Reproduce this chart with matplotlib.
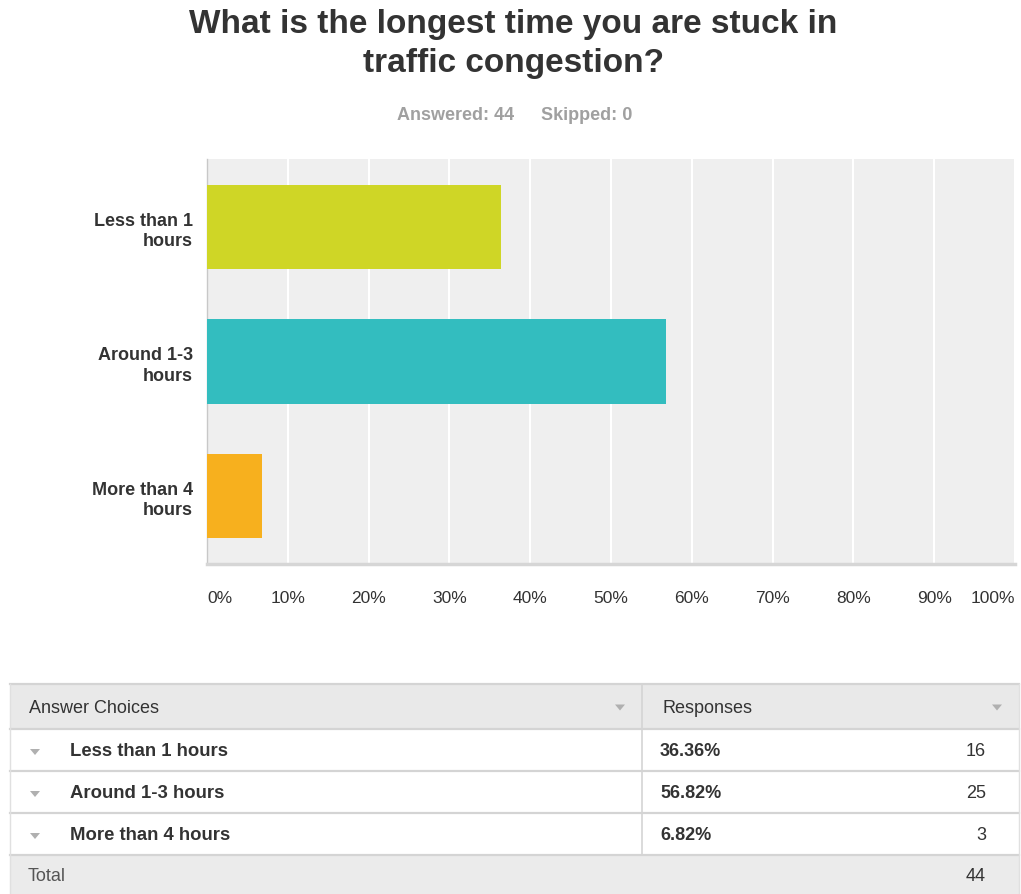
import matplotlib
matplotlib.use("Agg")
import matplotlib.pyplot as plt
from matplotlib.patches import Rectangle, Polygon

plt.rcParams['font.family'] = ['Liberation Sans', 'DejaVu Sans']

# survey results
choices = ["Less than 1 hours", "Around 1-3 hours", "More than 4 hours"]
axis_labels = ["Less than 1\nhours", "Around 1-3\nhours", "More than 4\nhours"]
percents = [36.36, 56.82, 6.82]
counts = [16, 25, 3]
skipped = 0
bar_colors = ["#cfd626", "#33bdbf", "#f7b01e"]
ticks = [0, 10, 20, 30, 40, 50, 60, 70, 80, 90, 100]
tick_labels = [f"{t}%" for t in ticks]

W, H = 1021, 895
fig = plt.figure(figsize=(W / 100, H / 100), dpi=100)
fig.patch.set_facecolor("white")

# bar chart
ax = fig.add_axes([207 / W, 1 - 565 / H, 808 / W, 405 / H])
ax.set_facecolor("#efefef")
ypos = list(range(len(choices)))
ax.barh(ypos, percents, height=0.63, color=bar_colors, zorder=3)
ax.set_xlim(0, 100)
ax.set_ylim(len(choices) - 0.495, -0.505)
ax.set_xticks(ticks)
ax.xaxis.grid(True, color="white", linewidth=1.5, zorder=1)
ax.set_axisbelow(True)
ax.set_xticklabels(tick_labels, fontsize=12.5, color="#333333")
ax.tick_params(axis="x", length=0, pad=19)
ax.set_yticks(ypos)
ax.set_yticklabels(axis_labels, fontsize=13, fontweight="bold", color="#333333",
                   linespacing=1.25)
ax.tick_params(axis="y", length=0, pad=10)
for s in ["top", "right"]:
    ax.spines[s].set_visible(False)
ax.spines["left"].set_color("#c8c8c8")
ax.spines["left"].set_linewidth(1)
ax.spines["bottom"].set_color("#d6d6d6")
ax.spines["bottom"].set_linewidth(2.5)
xt = ax.get_xticklabels()
xt[0].set_ha("left")
xt[-1].set_ha("right")

# title and response summary
fig.text(513 / W, 1 - 44 / H, "What is the longest time you are stuck in\ntraffic congestion?",
         ha="center", va="center", fontsize=24, fontweight="bold", color="#333333",
         linespacing=1.3)
fig.text(456 / W, 1 - 115 / H, f"Answered: {sum(counts)}", ha="center", va="center",
         fontsize=13, fontweight="bold", color="#a0a0a0")
fig.text(587 / W, 1 - 115 / H, f"Skipped: {skipped}", ha="center", va="center",
         fontsize=13, fontweight="bold", color="#a0a0a0")

# response table drawn in pixel coordinates
tb = fig.add_axes([0, 0, 1, 1], zorder=5)
tb.set_xlim(0, W)
tb.set_ylim(H, 0)
tb.axis("off")

left, right, split = 10, 1019, 642
row_edges = [685, 730, 772, 814, 856, 895]
txt = "#333333"
line_c = "#d4d4d4"


def tri(x, y, c="#b0b0b0"):
    tb.add_patch(Polygon([[x - 5, y - 3], [x + 5, y - 3], [x, y + 3]], closed=True,
                         color=c, lw=0))


tb.add_patch(Rectangle((left, row_edges[0]), right - left, row_edges[1] - row_edges[0],
                       facecolor="#e9e9e9", edgecolor="none"))
tb.add_patch(Rectangle((left, row_edges[4]), right - left, row_edges[5] - row_edges[4],
                       facecolor="#ebebeb", edgecolor="none"))
for y in row_edges[:5]:
    tb.plot([left, right], [y, y], color=line_c, lw=1.6)
tb.plot([left, left], [row_edges[0], row_edges[5]], color="#e0e0e0", lw=1)
tb.plot([right, right], [row_edges[0], row_edges[5]], color="#e0e0e0", lw=1)
tb.plot([split, split], [row_edges[0], row_edges[4]], color=line_c, lw=1.2)

hy = (row_edges[0] + row_edges[1]) / 2 + 1
tb.text(29, hy, "Answer Choices", ha="left", va="center", fontsize=13, color=txt)
tb.text(662, hy, "Responses", ha="left", va="center", fontsize=13, color=txt)
tri(620, hy)
tri(997, hy)

for i, name in enumerate(choices):
    cy = (row_edges[i + 1] + row_edges[i + 2]) / 2 + 1
    tri(35, cy + 1)
    tb.text(70, cy, name, ha="left", va="center", fontsize=13.3, fontweight="bold", color=txt)
    tb.text(660, cy, f"{percents[i]:.2f}%", ha="left", va="center", fontsize=13,
            fontweight="bold", color=txt)
    tb.text(986, cy, str(counts[i]), ha="right", va="center", fontsize=13, color=txt)

ty = (row_edges[4] + row_edges[5]) / 2 + 1
tb.text(28, ty, "Total", ha="left", va="center", fontsize=13, color="#555555")
tb.text(986, ty, str(sum(counts)), ha="right", va="center", fontsize=13, color=txt)

fig.savefig("out.png", dpi=100)
